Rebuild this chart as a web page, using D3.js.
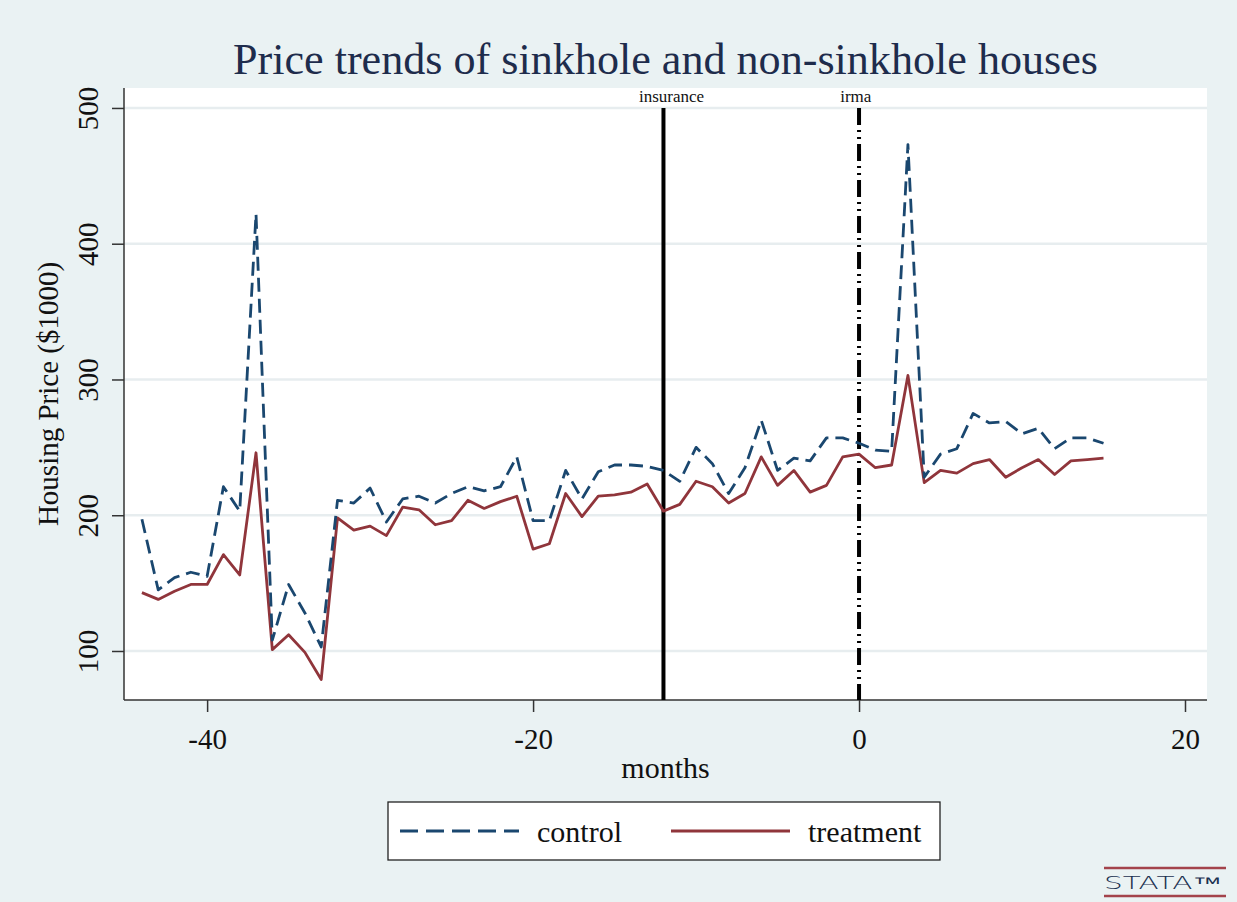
<!DOCTYPE html>
<html>
<head>
<meta charset="utf-8">
<script src="https://cdn.jsdelivr.net/npm/d3@7"></script>
<style>
  html, body { margin: 0; padding: 0; background: #eaf2f3; }
  svg { display: block; }
  text { font-family: "Liberation Serif", "Times New Roman", serif; }
  text.mark { font-family: "DejaVu Sans", sans-serif; font-weight: 300; }
</style>
</head>
<body>
<svg id="chart" width="1237" height="902"></svg>
<script>
// Monthly average prices ($1000), months relative to Hurricane Irma
const months = d3.range(-44, 16);
const control = [197, 145, 154, 158, 155, 221, 203, 422, 108, 149, 128, 103,
  211, 209, 220, 195, 212, 214, 209, 216, 221, 218, 221, 243, 196, 196, 233, 212,
  232, 237, 237, 236, 233, 225, 250, 238, 216, 235, 270, 233, 242, 240, 257, 257,
  253, 248, 247, 473, 228, 245, 249, 275, 268, 269, 260, 264, 249, 257, 257, 253];
const treatment = [143, 138, 144, 149, 149, 171, 156, 246, 101, 112, 99, 79,
  198, 189, 192, 185, 206, 204, 193, 196, 211, 205, 210, 214, 175, 179, 216, 199,
  214, 215, 217, 223, 203, 208, 225, 221, 209, 216, 243, 222, 233, 217, 222, 243,
  245, 235, 237, 303, 224, 233, 231, 238, 241, 228, 235, 241, 230, 240, 241, 242];
const xTicks = [-40, -20, 0, 20];
const yTicks = [100, 200, 300, 400, 500];
const eventNames = ["insurance", "irma"];
const eventMonths = [-12, 0];
const eventLabelMonths = [-11.5, -0.2];
const seriesNames = ["control", "treatment"];

const svg = d3.select("#chart");
const W = 1237, H = 902;
const plot = { left: 124, right: 1207, top: 88, bottom: 700 };

const x = d3.scaleLinear().domain([-45.1, 21.35]).range([plot.left, plot.right]);
const y = d3.scaleLinear().domain([63.9, 514.7]).range([plot.bottom, plot.top]);

const navy = "#1a476f", maroon = "#90353b";
const plain = d => String(d);   // ASCII hyphen for negatives

// backgrounds
svg.append("rect").attr("width", W).attr("height", H).attr("fill", "#eaf2f3");
svg.append("rect")
  .attr("x", plot.left).attr("y", plot.top)
  .attr("width", plot.right - plot.left).attr("height", plot.bottom - plot.top)
  .attr("fill", "#ffffff");

// horizontal grid
svg.append("g").selectAll("line").data(yTicks).join("line")
  .attr("x1", plot.left).attr("x2", plot.right)
  .attr("y1", d => y(d)).attr("y2", d => y(d))
  .attr("stroke", "#e7edef").attr("stroke-width", 2.5);

// y axis
const yAxis = svg.append("g")
  .attr("transform", `translate(${plot.left},0)`)
  .call(d3.axisLeft(y).tickValues(yTicks).tickSize(12).tickPadding(0).tickFormat(plain));
yAxis.select(".domain").remove();
yAxis.selectAll(".tick line").attr("stroke", "#333").attr("stroke-width", 1.5);
yAxis.selectAll(".tick text")
  .attr("font-size", 29).attr("fill", "#111")
  .attr("text-anchor", "middle")
  .attr("x", null).attr("dy", null)
  .attr("transform", "translate(-26,0) rotate(-90)");
svg.append("line")
  .attr("x1", plot.left).attr("x2", plot.left)
  .attr("y1", plot.top).attr("y2", plot.bottom)
  .attr("stroke", "#333").attr("stroke-width", 1.5);

// x axis
const xAxis = svg.append("g")
  .attr("transform", `translate(0,${plot.bottom})`)
  .call(d3.axisBottom(x).tickValues(xTicks).tickSize(12).tickPadding(16).tickFormat(plain));
xAxis.select(".domain").remove();
xAxis.selectAll(".tick line").attr("stroke", "#333").attr("stroke-width", 1.5);
xAxis.selectAll(".tick text")
  .attr("font-size", 29).attr("fill", "#111");
svg.append("line")
  .attr("x1", plot.left).attr("x2", plot.right)
  .attr("y1", plot.bottom).attr("y2", plot.bottom)
  .attr("stroke", "#333").attr("stroke-width", 1.5);

// event lines
const evG = svg.append("g");
evG.selectAll("line").data(eventMonths).join("line")
  .attr("x1", d => x(d)).attr("x2", d => x(d))
  .attr("y1", y(500)).attr("y2", plot.bottom)
  .attr("stroke", "#000").attr("stroke-width", 4)
  .attr("stroke-dasharray", (d, i) => i === 1 ? "17,5,2,5,2,5" : null);
evG.selectAll("text").data(eventNames).join("text")
  .attr("x", (d, i) => x(eventLabelMonths[i]))
  .attr("y", 102)
  .attr("text-anchor", "middle")
  .attr("font-size", 17).attr("fill", "#111")
  .text(d => d);

// series lines
const line = d3.line().x((d, i) => x(months[i])).y(d => y(d));
svg.append("path").datum(treatment)
  .attr("d", line).attr("fill", "none")
  .attr("stroke", maroon).attr("stroke-width", 2.8).attr("stroke-linejoin", "round");
svg.append("path").datum(control)
  .attr("d", line).attr("fill", "none")
  .attr("stroke", navy).attr("stroke-width", 2.8)
  .attr("stroke-dasharray", "14,7").attr("stroke-linejoin", "round");

// title
svg.append("text")
  .attr("x", (plot.left + plot.right) / 2).attr("y", 74)
  .attr("text-anchor", "middle")
  .attr("font-size", 44).attr("fill", "#1e2c4c")
  .attr("textLength", 865).attr("lengthAdjust", "spacingAndGlyphs")
  .text("Price trends of sinkhole and non-sinkhole houses");

// axis titles
svg.append("text")
  .attr("transform", `translate(58,${(plot.top + plot.bottom) / 2}) rotate(-90)`)
  .attr("text-anchor", "middle")
  .attr("font-size", 29).attr("fill", "#111")
  .text("Housing Price ($1000)");
svg.append("text")
  .attr("x", (plot.left + plot.right) / 2).attr("y", 778)
  .attr("text-anchor", "middle")
  .attr("font-size", 30).attr("fill", "#111")
  .text("months");

// legend
const lg = svg.append("g");
lg.append("rect")
  .attr("x", 388).attr("y", 802).attr("width", 552).attr("height", 58)
  .attr("fill", "#fff").attr("stroke", "#222").attr("stroke-width", 1.3);
const keyX = [400, 671];
const labX = [537, 808];
seriesNames.forEach((name, i) => {
  lg.append("line")
    .attr("x1", keyX[i]).attr("x2", keyX[i] + 119)
    .attr("y1", 831).attr("y2", 831)
    .attr("stroke", i === 0 ? navy : maroon).attr("stroke-width", 3)
    .attr("stroke-dasharray", i === 0 ? "18,8" : null);
  lg.append("text")
    .attr("x", labX[i]).attr("y", 842)
    .attr("font-size", 30).attr("fill", "#111")
    .text(name);
});

// Stata mark
const mark = svg.append("g");
[868, 896].forEach(yy => {
  mark.append("line").attr("x1", 1104).attr("x2", 1226)
    .attr("y1", yy).attr("y2", yy)
    .attr("stroke", "#a3434b").attr("stroke-width", 2.5);
});
mark.append("text").attr("class", "mark")
  .attr("x", 1104).attr("y", 889)
  .attr("font-size", 17).attr("fill", "#1a3050")
  .attr("textLength", 118).attr("lengthAdjust", "spacingAndGlyphs")
  .text("STATA™");
</script>
</body>
</html>
